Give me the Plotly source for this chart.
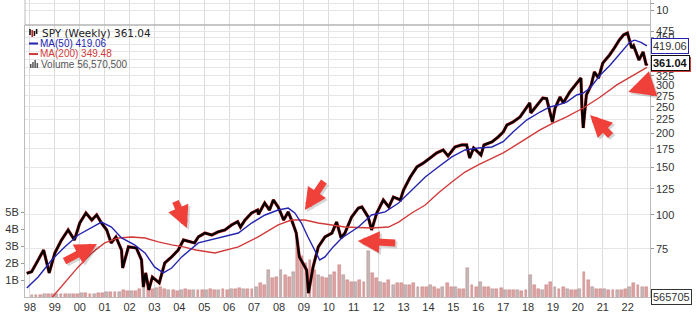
import numpy as np
import pandas as pd
import plotly.graph_objects as go

# ---------------- data ----------------
price_dates = [
    "1997-11-15", "1998-01-25", "1998-05-01", "1998-07-20", "1998-10-10", "1999-01-01",
    "1999-04-08", "1999-07-15", "1999-10-15", "2000-01-01", "2000-04-01", "2000-06-25",
    "2000-09-05", "2000-11-15", "2001-01-30", "2001-04-05", "2001-06-15", "2001-09-05",
    "2001-09-21", "2001-12-15", "2002-04-10", "2002-06-25", "2002-07-22", "2002-08-25",
    "2002-10-10", "2002-12-01", "2003-03-12", "2003-06-01", "2003-09-10", "2003-12-15",
    "2004-03-01", "2004-08-10", "2004-10-05", "2005-01-10", "2005-04-20", "2005-07-20",
    "2005-10-30", "2006-02-05", "2006-05-05", "2006-06-15", "2006-08-20", "2006-11-25",
    "2007-02-20", "2007-03-05", "2007-06-05", "2007-08-15", "2007-10-10", "2007-12-20",
    "2008-03-10", "2008-05-15", "2008-07-15", "2008-09-10", "2008-10-25", "2008-12-15",
    "2009-02-10", "2009-03-08", "2009-05-15", "2009-07-30", "2009-11-05", "2010-02-15",
    "2010-04-25", "2010-06-30", "2010-08-25", "2010-12-01", "2011-03-10", "2011-05-01",
    "2011-08-01", "2011-09-20", "2011-12-05", "2012-03-10", "2012-05-30", "2012-08-05",
    "2012-11-15", "2013-01-01", "2013-04-10", "2013-07-15", "2013-10-20", "2014-01-25",
    "2014-05-01", "2014-08-05", "2014-10-15", "2015-01-25", "2015-05-05", "2015-07-15",
    "2015-08-28", "2015-10-25", "2016-02-10", "2016-03-25", "2016-07-20", "2016-10-20",
    "2017-01-01", "2017-02-25", "2017-05-25", "2017-09-05", "2017-12-10", "2018-01-26",
    "2018-02-10", "2018-05-15", "2018-08-05", "2018-09-30", "2018-11-05", "2018-12-24",
    "2019-02-01", "2019-04-15", "2019-06-01", "2019-09-05", "2019-11-25", "2020-02-15",
    "2020-03-01", "2020-03-20", "2020-05-05", "2020-07-15", "2020-08-30", "2020-10-30",
    "2021-01-01", "2021-04-10", "2021-06-20", "2021-09-01", "2021-11-01", "2021-12-28",
    "2022-02-28", "2022-03-28", "2022-06-15", "2022-08-15", "2022-09-30", "2022-10-10",
]
price_vals = [
    61.0, 61.8, 68.3, 74.3, 61.2, 72.5,
    80.9, 88.1, 80.9, 93.4, 101.7, 95.8,
    100.0, 93.4, 88.1, 78.9, 83.0, 74.3,
    63.8, 76.3, 75.6, 68.3, 54.3, 61.2,
    53.0, 59.1, 56.2, 66.6, 70.1, 74.3,
    80.9, 78.9, 83.0, 85.8, 84.4, 86.6,
    88.1, 91.9, 94.5, 90.3, 95.8, 101.7,
    104.3, 100.5, 110.7, 104.3, 113.6, 107.0,
    95.8, 102.6, 94.2, 85.8, 70.1, 66.6,
    62.7, 51.6, 64.4, 76.3, 83.0, 85.8,
    94.2, 82.3, 85.8, 98.3, 106.0, 107.0,
    98.3, 88.1, 101.7, 113.6, 107.0, 116.5,
    113.6, 123.6, 138.0, 150.2, 155.4, 162.1,
    169.2, 173.5, 165.0, 178.0, 181.0, 181.0,
    162.1, 176.5, 166.3, 181.0, 185.7, 193.7,
    202.0, 214.4, 219.8, 229.5, 247.6, 258.4,
    237.4, 254.0, 269.6, 268.0, 247.6, 219.8,
    247.6, 271.8, 258.4, 283.6, 301.0, 319.0,
    247.6, 209.0, 276.5, 301.0, 336.0, 319.0,
    362.6, 388.0, 412.0, 441.0, 460.0, 467.5,
    412.0, 420.0, 372.0, 398.0, 356.0, 361.04,
]

ma50_dates = [
    "1997-11-15", "1998-05-01", "1998-11-15", "1999-05-25", "1999-12-10", "2000-06-25",
    "2000-11-15", "2001-04-10", "2001-09-05", "2002-03-15", "2002-08-15", "2003-01-01",
    "2003-05-10", "2003-09-10", "2004-02-05", "2004-10-05", "2005-07-20", "2006-05-15",
    "2006-11-25", "2007-06-10", "2007-12-20", "2008-05-15", "2008-08-20", "2008-11-25",
    "2009-03-01", "2009-06-10", "2009-08-20", "2009-11-05", "2010-03-05", "2010-07-10",
    "2011-03-10", "2011-09-20", "2012-04-05", "2012-10-20", "2013-05-01", "2013-11-15",
    "2014-05-25", "2014-12-10", "2015-06-20", "2016-01-01", "2016-07-20", "2017-01-01",
    "2017-05-25", "2017-12-10", "2018-06-25", "2018-11-15", "2019-03-15", "2019-07-20",
    "2019-12-15", "2020-03-20", "2020-06-28", "2020-11-25", "2021-04-20", "2021-09-15",
    "2022-02-05", "2022-04-15", "2022-07-15", "2022-10-10",
]
ma50_vals = [
    53.8, 59.1, 68.3, 76.3, 84.4, 90.3,
    94.2, 90.3, 82.3, 77.6, 72.5, 64.4,
    61.2, 63.8, 70.1, 78.9, 82.3, 85.8,
    93.4, 100.0, 104.3, 106.0, 101.7, 93.4,
    83.0, 74.3, 68.3, 70.1, 76.3, 82.3,
    90.3, 100.0, 102.6, 110.7, 123.6, 138.0,
    150.2, 163.5, 173.5, 176.5, 178.0, 186.0,
    202.0, 223.6, 239.3, 249.8, 254.0, 260.3,
    276.5, 281.0, 293.4, 327.6, 356.6, 394.6,
    433.5, 440.0, 432.0, 419.06,
]

ma200_dates = [
    "1998-11-15", "1999-05-25", "1999-12-10", "2000-06-25", "2001-01-01", "2001-07-20",
    "2002-02-01", "2002-08-15", "2003-02-25", "2003-09-10", "2004-03-01", "2004-09-01",
    "2005-06-05", "2006-05-15", "2007-03-01", "2007-12-20", "2008-07-01", "2009-01-15",
    "2009-07-30", "2010-02-15", "2010-08-25", "2011-09-20", "2012-05-25", "2012-10-20",
    "2013-05-01", "2013-11-15", "2014-05-25", "2014-12-10", "2015-06-20", "2016-01-01",
    "2016-07-20", "2017-01-01", "2017-05-25", "2017-12-10", "2018-06-25", "2019-01-01",
    "2019-07-20", "2020-03-20", "2020-11-25", "2021-07-25", "2022-03-28", "2022-10-10",
]
ma200_vals = [
    49.5, 56.2, 64.4, 72.5, 78.9, 82.3,
    83.0, 82.3, 79.6, 77.6, 76.3, 74.3,
    72.5, 76.3, 83.0, 91.9, 95.8, 95.8,
    93.4, 91.9, 90.3, 89.5, 90.3, 94.2,
    101.7, 108.8, 120.5, 132.3, 143.9, 152.8,
    162.1, 169.2, 178.0, 192.0, 205.6, 218.0,
    229.5, 247.6, 271.8, 301.0, 327.6, 349.48,
]

# volume in billions of shares, two-month buckets starting Jan 1998
volume_b = [
    0.10, 0.12, 0.12, 0.15, 0.18, 0.15,   # 1998
    0.15, 0.15, 0.18, 0.15, 0.18, 0.20,   # 1999
    0.22, 0.25, 0.20, 0.20, 0.22, 0.25,   # 2000
    0.30, 0.30, 0.28, 0.30, 0.40, 0.35,   # 2001
    0.35, 0.35, 0.45, 0.70, 0.60, 0.50,   # 2002
    0.55, 0.60, 0.45, 0.40, 0.40, 0.35,   # 2003
    0.40, 0.45, 0.40, 0.40, 0.40, 0.40,   # 2004
    0.40, 0.45, 0.40, 0.40, 0.45, 0.40,   # 2005
    0.45, 0.50, 0.55, 0.50, 0.45, 0.45,   # 2006
    0.60, 0.80, 0.70, 1.60, 1.10, 1.20,   # 2007
    1.60, 1.30, 1.20, 1.50, 3.30, 2.40,   # 2008
    2.00, 2.20, 1.60, 1.30, 1.20, 1.10,   # 2009
    1.30, 1.50, 1.90, 1.30, 1.00, 0.90,   # 2010
    0.90, 1.00, 0.90, 2.70, 1.40, 1.10,   # 2011
    0.90, 0.80, 1.00, 0.70, 0.80, 0.80,   # 2012
    0.70, 0.70, 0.80, 0.60, 0.60, 0.60,   # 2013
    0.70, 0.60, 0.50, 0.60, 0.80, 0.60,   # 2014
    0.60, 0.50, 0.50, 1.70, 0.70, 0.60,   # 2015
    0.90, 0.60, 0.60, 0.50, 0.50, 0.55,   # 2016
    0.40, 0.40, 0.40, 0.40, 0.35, 0.40,   # 2017
    1.30, 0.70, 0.50, 0.40, 0.70, 0.90,   # 2018
    0.60, 0.50, 0.60, 0.50, 0.40, 0.40,   # 2019
    0.50, 1.50, 1.00, 0.60, 0.50, 0.50,   # 2020
    0.50, 0.40, 0.40, 0.40, 0.40, 0.50,   # 2021
    0.60, 0.80, 0.70, 0.60, 0.60,         # 2022
]
volume_dates = pd.date_range("1998-01-01", periods=len(volume_b), freq="2MS") + pd.Timedelta(days=30)

price_ticks = [50, 75, 100, 125, 150, 175, 200, 225, 250, 275, 300, 325, 350, 375, 400, 425, 450, 475]
# labels that sit under the value tags in the reference are left blank
price_labels = [75, 100, 125, 150, 175, 200, 225, 250, 275, 300, 325, 450, 475]
vol_ticks = [1, 2, 3, 4, 5]
vol_tick_text = ["1B", "2B", "3B", "4B", "5B"]

last_price, last_ma50, last_ma200 = 361.04, 419.06, 349.48

# ---------------- layout geometry ----------------
W, H = 700, 315
ML, MR, MT, MB = 25, 50, 0, 18
PH = H - MT - MB
PW = W - ML - MR
MAIN_TOP_PX = 25
main_top = (PH - MAIN_TOP_PX) / PH


def px_x(p):
    return (p - ML) / PW


def px_y(p):
    return (PH - (p - MT)) / PH


fig = go.Figure()

vol_colors = ["rgba(200,105,105,0.62)" if i % 3 else "rgba(150,138,138,0.6)" for i in range(len(volume_b))]
fig.add_trace(go.Bar(
    x=volume_dates, y=volume_b, yaxis="y", xaxis="x",
    marker=dict(color=vol_colors, line=dict(color="rgba(170,80,80,0.55)", width=0.5)),
    width=42 * 86400000, showlegend=False, hoverinfo="skip",
))

fig.add_trace(go.Scatter(
    x=price_dates, y=price_vals, yaxis="y2", mode="lines",
    line=dict(color="#e03030", width=3.2), showlegend=False, hoverinfo="skip",
))
fig.add_trace(go.Scatter(
    x=price_dates, y=price_vals, yaxis="y2", mode="lines",
    line=dict(color="#000000", width=2.4), showlegend=False,
))
fig.add_trace(go.Scatter(
    x=ma200_dates, y=ma200_vals, yaxis="y2", mode="lines",
    line=dict(color="#d23a3a", width=1.4), showlegend=False,
))
fig.add_trace(go.Scatter(
    x=ma50_dates, y=ma50_vals, yaxis="y2", mode="lines",
    line=dict(color="#2424b0", width=1.4), showlegend=False,
))

fig.add_trace(go.Scatter(x=["2000-01-01"], y=[-10], xaxis="x2", yaxis="y3",
                         mode="markers", marker=dict(opacity=0), showlegend=False, hoverinfo="skip"))

grid = "#dcdcdc"
tickfont = dict(family="Liberation Sans, Arial", size=11, color="#333333")
xr = ["1997-10-20", "2022-11-24"]

fig.update_layout(
    width=W, height=H, margin=dict(l=ML, r=MR, t=MT, b=MB),
    paper_bgcolor="white", plot_bgcolor="white",
    bargap=0, showlegend=False,
    xaxis=dict(
        type="date", range=xr, domain=[0, 1], anchor="y",
        dtick="M12", tick0="1998-01-01", tickformat="%y",
        showgrid=True, gridcolor=grid, gridwidth=1,
        showline=True, linecolor="#bbbbbb", mirror=False,
        ticks="", tickfont=tickfont, ticklabelstandoff=0,
        zeroline=False,
    ),
    xaxis2=dict(
        type="date", range=xr, domain=[0, 1], anchor="y3", matches="x",
        dtick="M12", tick0="1998-01-01", showticklabels=False,
        showgrid=True, gridcolor=grid, ticks="", showline=False,
    ),
    yaxis=dict(
        domain=[0, main_top], range=[0, 16], side="left",
        tickvals=vol_ticks, ticktext=vol_tick_text, tickfont=tickfont,
        showgrid=False, zeroline=False, ticks="outside", ticklen=3, tickcolor="#999999",
        showline=True, linecolor="#bbbbbb",
    ),
    yaxis2=dict(
        type="log", overlaying="y", side="right", anchor="x",
        range=[np.log10(49.9), np.log10(500.3)],
        tickmode="array", tickvals=price_ticks, showticklabels=False,
        showgrid=True, gridcolor="#e6e6e6", zeroline=False,
        ticks="outside", ticklen=3, tickcolor="#999999",
        showline=True, linecolor="#bbbbbb",
    ),
    yaxis3=dict(
        domain=[main_top, 1], range=[0, 25], side="right", anchor="x2",
        tickvals=[15, 22], ticktext=["10", ""], tickfont=tickfont,
        showgrid=True, gridcolor="#e6e6e6", zeroline=False,
        ticks="outside", ticklen=3, tickcolor="#999999",
        showline=True, linecolor="#bbbbbb",
    ),
)

shapes = []
shapes.append(dict(type="line", xref="paper", yref="paper", x0=0, x1=1, y0=main_top, y1=main_top,
                   line=dict(color="#b5b5b5", width=1.5)))
shapes.append(dict(type="line", xref="paper", yref="paper", x0=0, x1=0, y0=main_top, y1=1,
                   line=dict(color="#bbbbbb", width=1)))

# legend icons
shapes.append(dict(type="line", xref="paper", yref="paper", x0=px_x(29), x1=px_x(38),
                   y0=px_y(43.5), y1=px_y(43.5), line=dict(color="#2424b0", width=2)))
shapes.append(dict(type="line", xref="paper", yref="paper", x0=px_x(29), x1=px_x(38),
                   y0=px_y(54), y1=px_y(54), line=dict(color="#d23a3a", width=2)))
for i, hgt in enumerate([4, 6, 8, 5]):
    shapes.append(dict(type="rect", xref="paper", yref="paper",
                       x0=px_x(30 + 2.2 * i), x1=px_x(31.5 + 2.2 * i),
                       y0=px_y(68), y1=px_y(68 - hgt), line=dict(width=0), fillcolor="#555555"))
for i, (a, b, col) in enumerate([(29, 35, "#111"), (30, 37, "#c22"), (31, 36, "#111"), (29, 34, "#111")]):
    shapes.append(dict(type="line", xref="paper", yref="paper",
                       x0=px_x(30 + 2.2 * i), x1=px_x(30 + 2.2 * i),
                       y0=px_y(b), y1=px_y(a), line=dict(color=col, width=1.6)))
fig.update_layout(shapes=shapes)

ann = []
# price-axis labels on the right
for v in price_labels:
    ann.append(dict(xref="paper", yref="y2", x=1, y=np.log10(v), xanchor="left", yanchor="middle",
                    xshift=4, text=str(v), showarrow=False, font=tickfont))

ann.append(dict(xref="paper", yref="paper", x=px_x(40), y=px_y(33), xanchor="left", yanchor="middle",
                text="SPY (Weekly) 361.04", showarrow=False,
                font=dict(family="DejaVu Sans, Verdana", size=10.5, color="#222222")))
ann.append(dict(xref="paper", yref="paper", x=px_x(38), y=px_y(43.5), xanchor="left", yanchor="middle",
                text="MA(50) 419.06", showarrow=False,
                font=dict(family="Liberation Sans, Arial", size=10, color="#2424b0")))
ann.append(dict(xref="paper", yref="paper", x=px_x(38), y=px_y(54), xanchor="left", yanchor="middle",
                text="MA(200) 349.48", showarrow=False,
                font=dict(family="Liberation Sans, Arial", size=10, color="#d23a3a")))
ann.append(dict(xref="paper", yref="paper", x=px_x(39), y=px_y(64), xanchor="left", yanchor="middle",
                text="Volume 56,570,500", showarrow=False,
                font=dict(family="Liberation Sans, Arial", size=10, color="#555555")))

# right-edge value tags (the MA(200) tag sits almost fully behind the price tag)
ann.append(dict(xref="paper", yref="y2", x=1, y=np.log10(last_ma200), xanchor="left", yanchor="middle",
                xshift=1, yshift=3, text=" ", width=38, height=13, showarrow=False, bgcolor="white",
                bordercolor="#d23a3a", borderwidth=1, borderpad=0))
ann.append(dict(xref="paper", yref="y2", x=1, y=np.log10(last_price), xanchor="left", yanchor="middle",
                xshift=1, text="<b>361.04</b>", showarrow=False, bgcolor="white",
                bordercolor="#111111", borderwidth=1, borderpad=1,
                font=dict(family="Liberation Sans, Arial", size=11, color="#111111")))
ann.append(dict(xref="paper", yref="y2", x=1, y=np.log10(last_ma50), xanchor="left", yanchor="middle",
                xshift=1, text="419.06", showarrow=False, bgcolor="white",
                bordercolor="#2424b0", borderwidth=1, borderpad=1,
                font=dict(family="Liberation Sans, Arial", size=11, color="#333333")))
ann.append(dict(xref="paper", yref="paper", x=1, y=0, xanchor="left", yanchor="middle",
                xshift=1, text="565705", showarrow=False, bgcolor="white",
                bordercolor="#333333", borderwidth=1, borderpad=1,
                font=dict(family="Liberation Sans, Arial", size=11, color="#333333")))

# red arrows (with soft shadow)
arrows = [
    ("2000-09-10", 78.2, -34, 18, 0.62),
    ("2004-04-20", 89.6, -12, -28, 0.62),
    ("2009-01-15", 104.3, 20, -30, 0.62),
    ("2011-03-01", 80.2, 39, 2, 0.62),
    ("2020-06-28", 233.4, 22, 22, 0.62),
    ("2022-01-08", 283.6, 9, -3, 0.75),
]
for x, y, ax, ay, sz in arrows:
    ann.append(dict(xref="x", yref="y2", x=x, y=np.log10(y), ax=ax, ay=ay, text="",
                    showarrow=True, arrowhead=2, arrowsize=sz, arrowwidth=7,
                    arrowcolor="rgba(0,0,0,0.16)", xshift=2, yshift=-2))
    ann.append(dict(xref="x", yref="y2", x=x, y=np.log10(y), ax=ax, ay=ay, text="",
                    showarrow=True, arrowhead=2, arrowsize=sz, arrowwidth=7,
                    arrowcolor="#f0403a"))
fig.update_layout(annotations=ann)

fig.write_html("out.html")
